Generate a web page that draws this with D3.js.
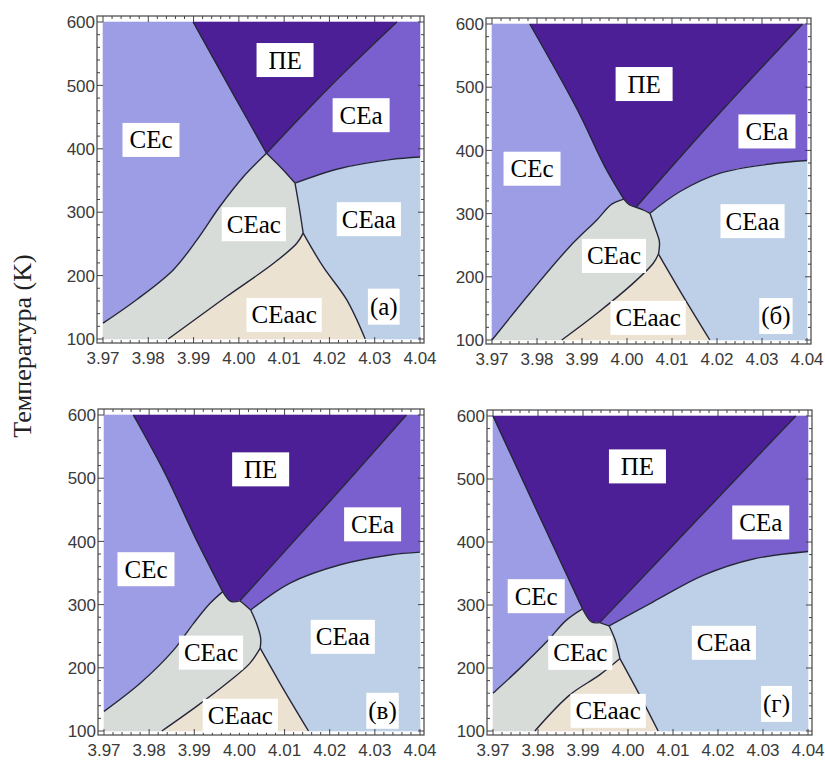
<!DOCTYPE html>
<html>
<head>
<meta charset="utf-8">
<script src="https://cdn.jsdelivr.net/npm/d3@7"></script>
<style>
body { margin: 0; background: #fff; }
.tick-label { font-family: "Liberation Sans", Arial, sans-serif; font-size: 17px; fill: #3a3a3a; }
.region-label { font-family: "Liberation Serif", "Times New Roman", serif; font-size: 25px; fill: #000; }
.axis-title { font-family: "Liberation Serif", "Times New Roman", serif; font-size: 26px; fill: #222; }
</style>
</head>
<body>
<svg id="chart" width="825" height="760"></svg>
<script>
const xTicks = [3.97, 3.98, 3.99, 4.00, 4.01, 4.02, 4.03, 4.04]
const yTicks = [100, 200, 300, 400, 500, 600]
const regionNames = ['CEc', 'ПЕ', 'CEa', 'CEaa', 'CEac', 'CEaac']
const regionColors = ['#9d9de6', '#4c1f96', '#7a60cf', '#bdd0e8', '#d8dcd9', '#ece2d2']
const panelTags = ['(a)', '(б)', '(в)', '(г)']

// phase boundaries [a, б, в, г], points as [lattice parameter, T]
// ПЕ / CEc : from top edge down to the triple point
const peCec = [
    [[3.9899, 600], [3.9991, 482], [4.0061, 393]],
    [[3.9784, 600], [3.9890, 464], [3.9951, 374], [3.9993, 323]],
    [[3.9765, 600], [3.9835, 508], [3.9905, 402], [3.9963, 320.5]],
    [[3.9700, 600], [3.9796, 452], [3.9899, 294]]
]
// ПЕ / CEac : short piece under the ПЕ tip
const peCeac = [
    [[4.0061, 393], [4.0061, 393]],
    [[3.9993, 323], [4.0005, 314], [4.0020, 310]],
    [[3.9963, 320.5], [3.9981, 305], [4.0001, 306]],
    [[3.9899, 294], [3.9919, 273], [3.9937, 272]]
]
// ПЕ / CEa : up to the top edge
const peCea = [
    [[4.0061, 393], [4.0201, 498], [4.0349, 600]],
    [[4.0020, 310], [4.0207, 460], [4.0390, 600]],
    [[4.0001, 306], [4.0186, 452], [4.0370, 600]],
    [[3.9937, 272], [4.0152, 434], [4.0373, 600]]
]
// CEc / CEac : from the left edge up to the triple point
const cecCeac = [
    [[3.9700, 125], [3.9774, 162], [3.9855, 209], [3.9907, 256], [3.9958, 309], [4.0010, 356], [4.0061, 393]],
    [[3.9700, 100], [3.9784, 174], [3.9873, 248], [3.9933, 290], [3.9966, 315], [3.9993, 323]],
    [[3.9700, 131], [3.9780, 175.5], [3.9854, 228], [3.9898, 270], [3.9935, 302], [3.9963, 320.5]],
    [[3.9700, 160], [3.9759, 199], [3.9819, 241.5], [3.9863, 276], [3.9899, 294]]
]
// CEa / CEac
const ceaCeac = [
    [[4.0061, 393], [4.0095, 369], [4.0124, 346]],
    [[4.0020, 310], [4.0036, 306], [4.0051, 300.5]],
    [[4.0001, 306], [4.0013, 299], [4.0025, 291.5]],
    [[3.9937, 272], [3.9958, 267]]
]
// CEa / CEaa : to the right edge
const ceaCeaa = [
    [[4.0124, 346], [4.0223, 369], [4.0334, 383], [4.0400, 387]],
    [[4.0051, 300.5], [4.0118, 335], [4.0207, 364], [4.0318, 378.5], [4.0400, 384]],
    [[4.0025, 291.5], [4.0112, 334], [4.0223, 363], [4.0333, 378.5], [4.0400, 383]],
    [[3.9958, 267], [4.0056, 305], [4.0167, 347], [4.0278, 373], [4.0400, 385]]
]
// CEac / CEaa
const ceacCeaa = [
    [[4.0124, 346], [4.0133, 309], [4.0142, 267]],
    [[4.0051, 300.5], [4.0064, 274], [4.0072, 256], [4.0070, 236]],
    [[4.0025, 291.5], [4.0038, 270], [4.0047, 247], [4.0046, 231]],
    [[3.9958, 267], [3.9973, 241.5], [3.9982, 215]]
]
// CEac / CEaac : from the bottom edge up
const ceacCeaac = [
    [[3.9844, 100], [3.9973, 167], [4.0076, 219], [4.0128, 251], [4.0142, 267]],
    [[3.9855, 100], [3.9933, 142], [4.0014, 190], [4.0058, 221], [4.0070, 236]],
    [[3.9828, 100], [3.9905, 139], [3.9972, 175.5], [4.0023, 207], [4.0046, 231]],
    [[3.9793, 100], [3.9870, 157], [3.9937, 189], [3.9982, 215]]
]
// CEaac / CEaa : down to the bottom edge
const ceaacCeaa = [
    [[4.0142, 267], [4.0186, 214], [4.0238, 162], [4.0279, 100]],
    [[4.0070, 236], [4.0125, 169], [4.0184, 100]],
    [[4.0046, 231], [4.0090, 175.5], [4.0153, 100]],
    [[3.9982, 215], [4.0026, 157], [4.0067, 100]]
]

// label anchors, same order as regionNames
const labelPos = [
    [[3.9806, 414], [4.0102, 540], [4.0270, 453], [4.0287, 289], [4.0033, 281], [4.0100, 138]],
    [[3.9789, 371], [4.0038, 505], [4.0311, 430], [4.0279, 288], [3.9971, 233], [4.0047, 135]],
    [[3.9793, 356], [4.0047, 514], [4.0295, 427], [4.0229, 249], [3.9937, 224], [4.0002, 124]],
    [[3.9796, 314], [4.0021, 520], [4.0295, 431], [4.0213, 240], [3.9894, 224], [3.9956, 132]]
]
const tagPos = [[4.0320, 151], [4.0331, 138], [4.0317, 132], [4.0330, 143]]

const svg = d3.select('#chart')

const panels = [
    {left: 103, top: 22, w: 317, h: 317},
    {left: 492, top: 24, w: 315, h: 316},
    {left: 104, top: 415, w: 316, h: 316},
    {left: 493, top: 416, w: 315, h: 315}
]

const rev = a => a.slice().reverse()

// each region as a list of pieces (boundary curves or single corner points)
function regionPieces(i) {
    const x0 = 3.97, x1 = 4.04, t0 = 100, t1 = 600
    return [
        [[[x0, t1]], peCec[i], rev(cecCeac[i])],
        [peCec[i], peCeac[i], peCea[i]],
        [peCea[i], [[x1, t1]], rev(ceaCeaa[i]), rev(ceaCeac[i])],
        [ceaCeaa[i], [[x1, t0]], rev(ceaacCeaa[i]), rev(ceacCeaa[i])],
        [[[x0, t0]], cecCeac[i], peCeac[i], ceaCeac[i], ceacCeaa[i], rev(ceacCeaac[i])],
        [ceacCeaac[i], ceaacCeaa[i]]
    ]
}

// joins smoothed pieces into one closed outline
function outline(pieces, line) {
    const path = d3.path()
    let started = false
    const ctx = {
        moveTo(x, y) { if (started) path.lineTo(x, y); else { path.moveTo(x, y); started = true } },
        lineTo(x, y) { path.lineTo(x, y) },
        bezierCurveTo(a, b, c, d, e, f) { path.bezierCurveTo(a, b, c, d, e, f) },
        closePath() {}
    }
    line.context(ctx)
    pieces.forEach(pc => line(pc))
    line.context(null)
    path.closePath()
    return path.toString()
}

function addBoxLabel(g, cx, cy, text, pad, minW, h) {
    const lg = g.append('g')
    const t = lg.append('text')
        .attr('class', 'region-label')
        .attr('x', cx)
        .attr('y', cy)
        .attr('dy', '0.34em')
        .attr('text-anchor', 'middle')
        .text(text)
    const bb = t.node().getBBox()
    const w = Math.max(bb.width + pad, minW)
    lg.insert('rect', 'text')
        .attr('x', cx - w / 2)
        .attr('y', cy - h / 2)
        .attr('width', w)
        .attr('height', h)
        .attr('fill', '#fff')
}

panels.forEach((p, i) => {
    const xScale = d3.scaleLinear().domain([3.97, 4.04]).range([p.left, p.left + p.w])
    const yScale = d3.scaleLinear().domain([100, 600]).range([p.top + p.h, p.top])
    const g = svg.append('g').attr('class', 'panel')

    const line = d3.line()
        .x(d => xScale(d[0]))
        .y(d => yScale(d[1]))
        .curve(d3.curveCatmullRom.alpha(0.5))

    // regions
    g.selectAll('.region')
        .data(regionPieces(i))
        .join('path')
        .attr('class', 'region')
        .attr('d', d => outline(d, line))
        .attr('fill', (_, k) => regionColors[k])
        .attr('stroke', (_, k) => regionColors[k])
        .attr('stroke-width', 0.6)

    // boundaries
    const bounds = [peCec[i], peCeac[i], peCea[i], cecCeac[i], ceaCeac[i], ceaCeaa[i], ceacCeaa[i], ceacCeaac[i], ceaacCeaa[i]]
    g.selectAll('.boundary')
        .data(bounds)
        .join('path')
        .attr('class', 'boundary')
        .attr('d', line)
        .attr('fill', 'none')
        .attr('stroke', '#26263a')
        .attr('stroke-width', 1.4)
        .attr('stroke-linejoin', 'round')

    // frame
    const fl = p.left - 6, fr = p.left + p.w + 4, ft = p.top - 6, fb = p.top + p.h + 4
    g.append('rect')
        .attr('x', fl).attr('y', ft)
        .attr('width', fr - fl).attr('height', fb - ft)
        .attr('fill', 'none')
        .attr('stroke', '#444')
        .attr('stroke-width', 1.2)

    const xMinor = d3.range(0, 36).map(k => 3.97 + k * 0.002)
    const yMinor = d3.range(0, 26).map(k => 100 + k * 20)
    const isMajorX = v => Math.abs(v * 100 - Math.round(v * 100)) < 1e-6
    const isMajorY = v => v % 100 === 0

    const tickG = g.append('g').attr('stroke', '#444').attr('stroke-width', 1)
    xMinor.forEach(v => {
        const len = isMajorX(v) ? 6 : 3
        const px = xScale(v)
        tickG.append('line').attr('x1', px).attr('x2', px).attr('y1', fb).attr('y2', fb - len)
        tickG.append('line').attr('x1', px).attr('x2', px).attr('y1', ft).attr('y2', ft + len)
    })
    yMinor.forEach(v => {
        const len = isMajorY(v) ? 6 : 3
        const py = yScale(v)
        tickG.append('line').attr('x1', fl).attr('x2', fl + len).attr('y1', py).attr('y2', py)
        tickG.append('line').attr('x1', fr).attr('x2', fr - len).attr('y1', py).attr('y2', py)
    })

    // tick labels
    g.selectAll('.xlab')
        .data(xTicks)
        .join('text')
        .attr('class', 'tick-label xlab')
        .attr('x', d => xScale(d))
        .attr('y', fb + 21)
        .attr('text-anchor', 'middle')
        .text(d => d3.format('.2f')(d))

    g.selectAll('.ylab')
        .data(yTicks)
        .join('text')
        .attr('class', 'tick-label ylab')
        .attr('x', fl - 2)
        .attr('y', d => yScale(d))
        .attr('dy', '0.36em')
        .attr('text-anchor', 'end')
        .text(d => d)

    // region labels
    regionNames.forEach((name, k) => {
        const pos = labelPos[i][k]
        addBoxLabel(g, xScale(pos[0]), yScale(pos[1]), name, 10, 57, 34)
    })
    addBoxLabel(g, xScale(tagPos[i][0]), yScale(tagPos[i][1]), panelTags[i], 4, 30, 36)
})

svg.append('text')
    .attr('class', 'axis-title')
    .attr('transform', 'translate(22,346) rotate(-90)')
    .attr('dy', '0.35em')
    .attr('text-anchor', 'middle')
    .text('Температура (K)')
</script>
</body>
</html>
